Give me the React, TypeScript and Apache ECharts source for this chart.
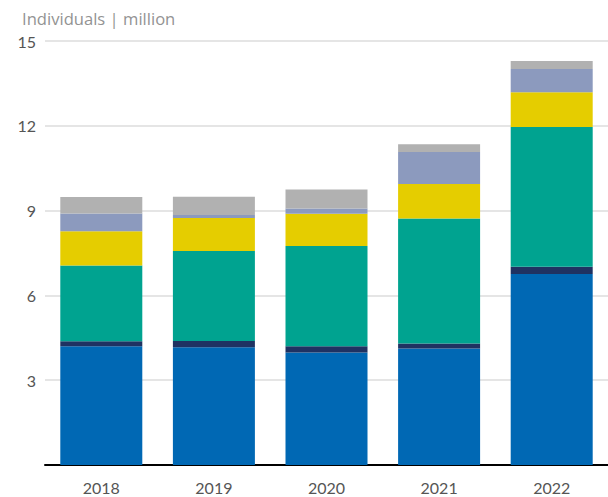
import React, { useEffect, useRef } from "react";
import * as echarts from "echarts";

const years = ["2018", "2019", "2020", "2021", "2022"];
const seriesA = [4.2, 4.17, 3.98, 4.12, 6.76];
const seriesB = [0.18, 0.22, 0.22, 0.18, 0.25];
const seriesC = [2.68, 3.18, 3.55, 4.42, 4.95];
const seriesD = [1.21, 1.17, 1.14, 1.22, 1.23];
const seriesE = [0.63, 0.1, 0.18, 1.13, 0.82];
const seriesF = [0.58, 0.65, 0.68, 0.28, 0.28];
const seriesNames = ["A", "B", "C", "D", "E", "F"];
const colors = ["#0068b4", "#1f3262", "#00a390", "#e5cd00", "#8c9abe", "#b1b1b1"];

export default function App() {
  const ref = useRef<HTMLDivElement>(null);
  useEffect(() => {
    if (!ref.current) return;
    const chart = echarts.init(ref.current, null, { renderer: "svg" });
    const data = [seriesA, seriesB, seriesC, seriesD, seriesE, seriesF];
    chart.setOption({
      animation: false,
      textStyle: { fontFamily: "Lato" },
      title: {
        text: "Individuals | million",
        left: 17,
        top: 5,
        textStyle: { fontSize: 16.6, fontWeight: "normal", color: "#939393", fontFamily: "Open Sans" },
      },
      grid: { left: 45, right: 0, top: 41, bottom: 32 },
      xAxis: {
        type: "category",
        data: years,
        axisTick: { show: false },
        axisLine: { lineStyle: { color: "#000", width: 2 } },
        axisLabel: { color: "#555", fontSize: 16, margin: 14, fontFamily: "Lato" },
      },
      yAxis: {
        type: "value",
        min: 0,
        max: 15,
        interval: 3,
        axisLabel: {
          color: "#555",
          fontSize: 16,
          margin: 9,
          fontFamily: "Lato",
          formatter: (v: number) => (v === 0 ? "" : String(v)),
        },
        splitLine: { lineStyle: { color: "#dddddd", width: 1.5 } },
        axisLine: { show: false },
        axisTick: { show: false },
      },
      series: data.map((d, i) => ({
        name: seriesNames[i],
        type: "bar",
        stack: "total",
        barWidth: 82,
        data: d,
        itemStyle: { color: colors[i] },
      })),
    });
    return () => chart.dispose();
  }, []);
  return (
    <div
      ref={ref}
      style={{ position: "absolute", left: 0, top: 0, width: 608, height: 497 }}
    />
  );
}
